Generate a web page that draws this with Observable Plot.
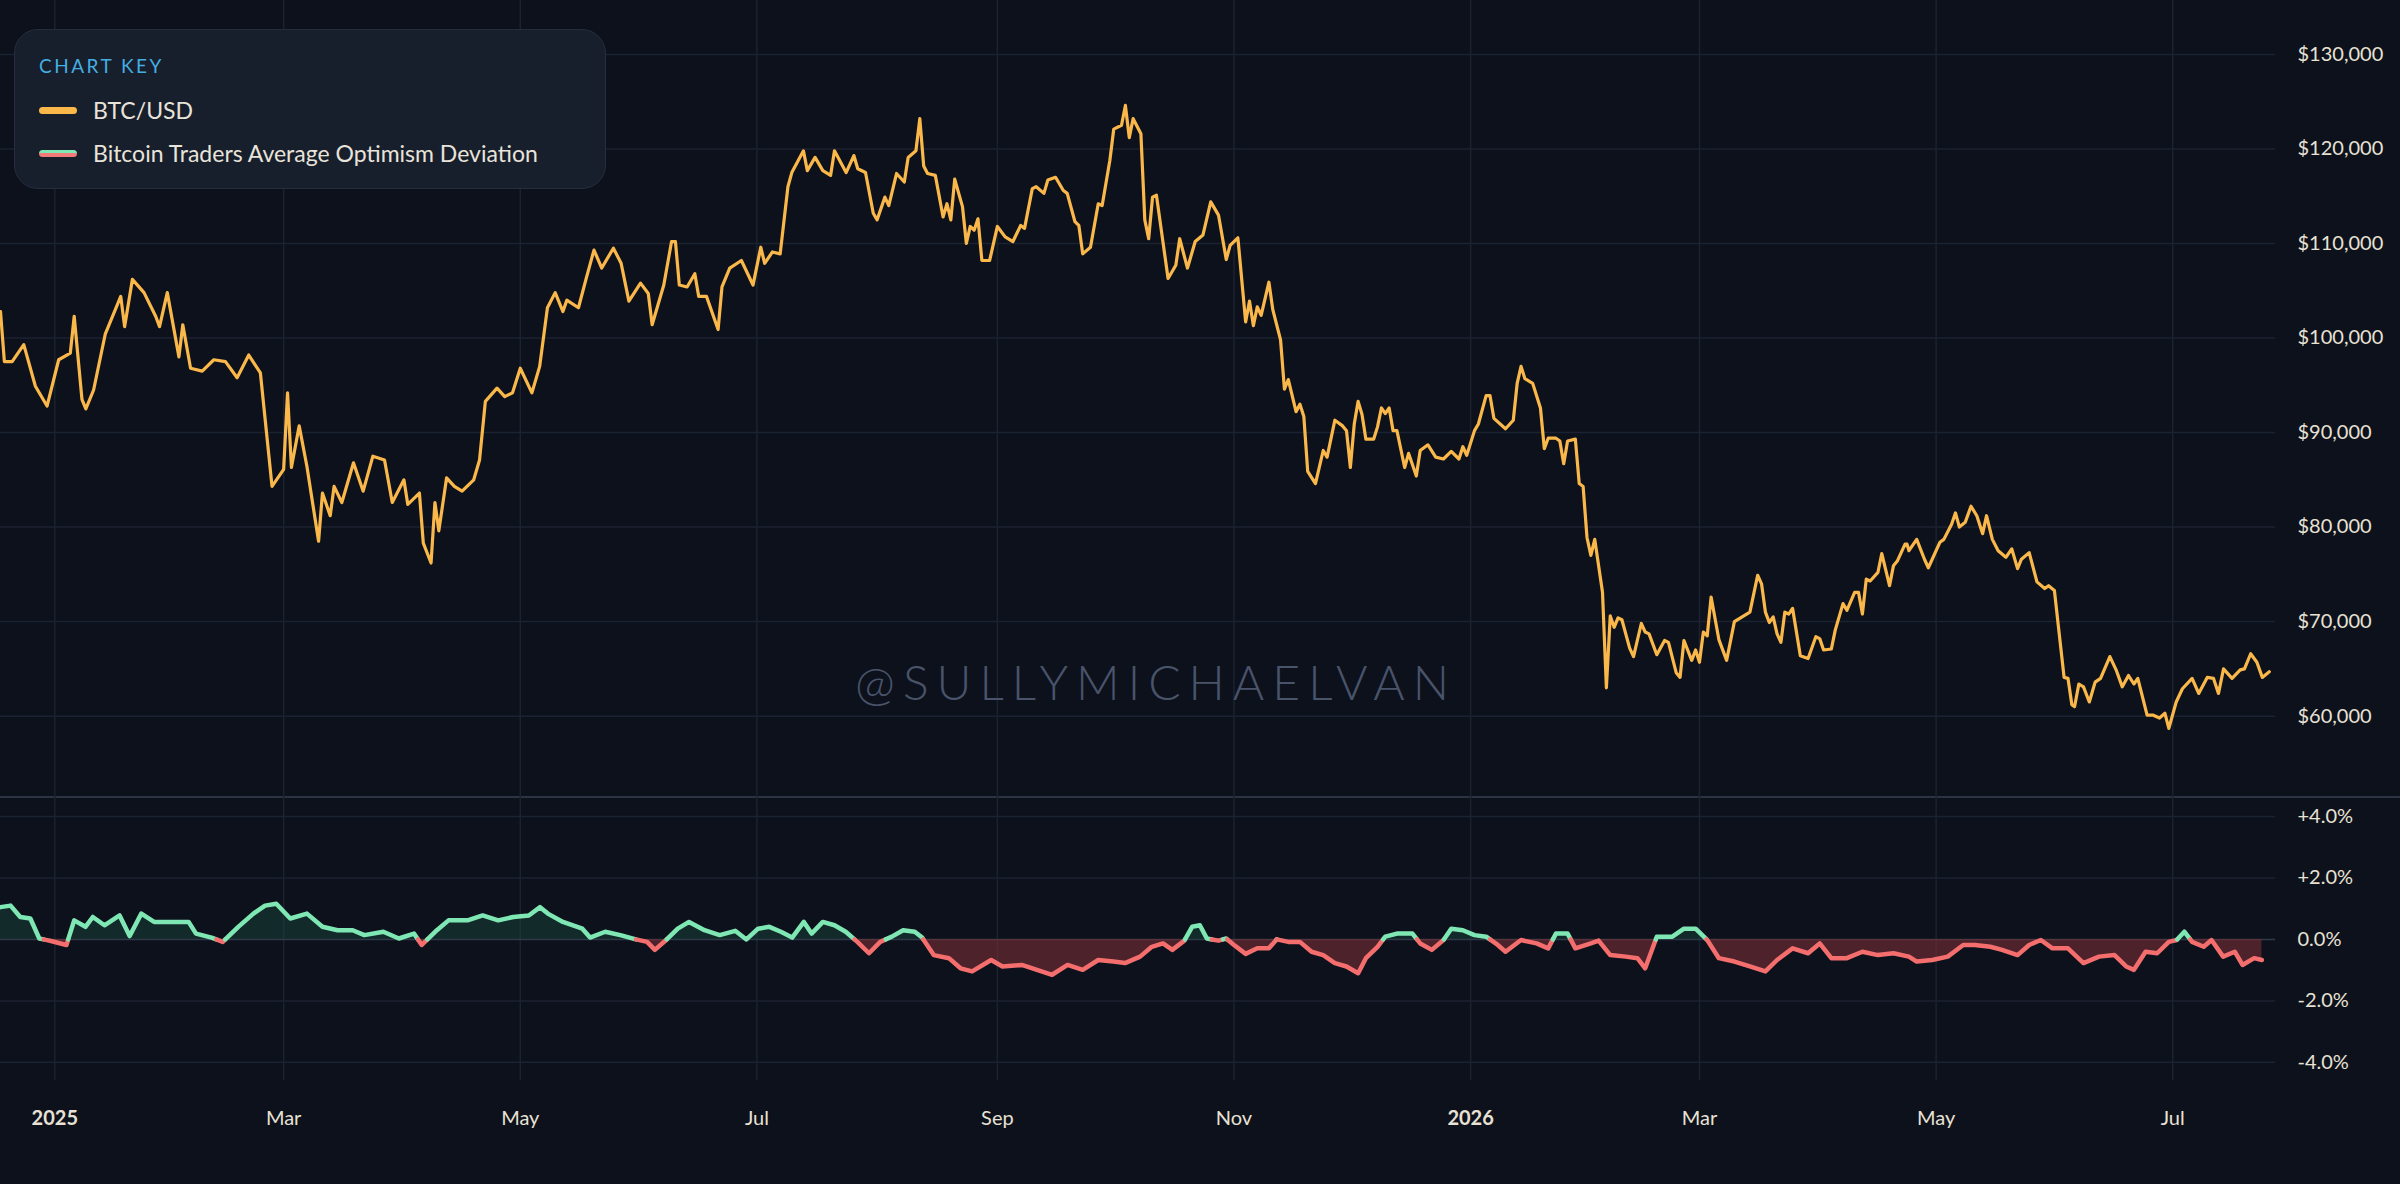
<!DOCTYPE html>
<html><head><meta charset="utf-8">
<script src="https://cdn.jsdelivr.net/npm/d3@7"></script>
<script src="https://cdn.jsdelivr.net/npm/@observablehq/plot@0.6"></script>
<style>
html,body{margin:0;padding:0;background:#0c111c;}
#wrap{position:relative;width:2400px;height:1184px;background:#0c111c;font-family:Lato,"Open Sans",sans-serif;overflow:hidden}
#wrap svg{display:block}
#legend{position:absolute;left:14px;top:29px;width:592px;height:160px;box-sizing:border-box;background:#171e2c;border:1.5px solid #262e3e;border-radius:24px;}
#legend .ttl{position:absolute;left:24px;top:24px;color:#45aee0;font-size:19px;letter-spacing:2.5px}
#legend .it{position:absolute;left:24px;color:#e9e4da;font-size:23px;display:flex;align-items:center}
#legend .sw{width:38px;height:7px;border-radius:4px;margin-right:16px}
#wm{position:absolute;left:1156px;top:681px;transform:translate(-50%,-50%);color:#49536a;font-size:48px;letter-spacing:8px;font-family:Lato,sans-serif;font-weight:300;white-space:nowrap}
</style></head>
<body><div id="wrap"><div id="topPanel"></div><div id="botPanel"></div>
<div id="wm">@SULLYMICHAELVAN</div>
<div id="legend"><div class="ttl">CHART KEY</div>
<div class="it" style="top:66px"><div class="sw" style="background:#fbb84a"></div>BTC/USD</div>
<div class="it" style="top:109px"><div class="sw" style="background:linear-gradient(#7fe7b4 50%,#f27a7a 50%)"></div>Bitcoin Traders Average Optimism Deviation</div>
</div></div>
<script>
// days since 2025-01-01
const btcDay = [-14,-13,-11,-8,-5,-2,1,4,5,7,8,10,13,17,18,20,23,26,27,29,32,33,35,38,41,44,47,50,53,56,59,60,61,63,65,68,69,71,72,74,75,77,79.5,82,85,87,90,91,94,95,97,98,99,101,103,105,108,109.5,111,114,116,118,120,123,125,127,129,131,132,135,137,139,141,
144,146,148,151,153,154,157,159,160,161,163,165,166,168,171,172,174,177,180,182,183,185,187,189,190,193,194,196,198,200,201,204,206,207,209,211,212,214,215,217,219,220,222,223,224,225,227,229,230,231,232,234,235,236,237,238,239,241,243,245,247,249,250,252,253,255,256,258,260,261,263,264,265,267,269,270,272,273,275,276,277,278,280,281,282,283,284,287,289,290,292,294,
296,298,300,302,303,305,307,308,309,310,311,313,314,316,317,318,320,321,322,323,325,327,328,330,332,333,334,335,336,337,338,340,341,342,343,344,345,346,348,349,351,352,354,356,358,360,362,363,364,366,367,369,370,371,374,376,377,378,379,381,383,384,385,387,388,389,390,392,393,394,395,396,397,399,400,401,402,403,404,406,407,409,410,411,413,415,416,418,419,420,422,423,424,425,426,427,429,431,433,
437,439,440,441,442,443,444,445,446,447,448,450,452,454,455,456,458,459,461,462,464,465,466,467,468,470,471,473,474,475,477,477.5,478,480,482,483,484,486,487,489,490,491,492.5,494,495.5,497,498,499.5,501,503,504.5,506,507,509,511,513,514,515.5,516.5,518,519,520,520.7,521.8,523,524.5,526,527.4,529.8,531.4,533,534.6,536,537,539.4,541,542.6,544,545,546.9,548.5,551,552.7,554.9,556.5,557.8,559.1,561.3,563.4,564.5,566.1,567.7,569.1,570.9];
const btcPrice = [102.8,97.5,97.5,99.3,94.9,92.8,97.7,98.4,102.3,93.5,92.5,94.5,100.4,104.4,101.2,106.2,104.8,102.3,101.2,104.8,98,101.4,96.8,96.5,97.7,97.5,95.8,98.2,96.3,84.3,86.1,94.2,86.3,90.7,86.4,78.5,83.6,81.2,84.3,82.6,84,86.8,83.8,87.5,87.1,82.6,85,82.4,83.6,78.3,76.2,82.6,79.6,85.2,84.3,83.8,85,87.1,93.3,94.7,93.8,94.2,96.8,94.2,97,103.2,104.8,102.8,104,103.2,106.3,109.3,107.4,
109.5,107.9,103.9,105.8,104.7,101.4,105.6,110.2,110.2,105.6,105.4,106.8,104.4,104.4,100.9,105.4,107.4,108.2,105.6,109.6,107.9,109.1,108.9,116,117.5,119.8,117.7,119.1,117.7,117.2,119.8,117.5,119.3,117.9,117.5,113.2,112.5,114.9,114,117.4,116.5,119.1,119.8,123.2,118.2,117.4,117.2,112.8,114.2,112.5,116.8,113.9,110,111.8,111.4,112.6,108.2,108.2,111.8,110.7,110.2,111.9,111.6,115.8,116,115.3,116.7,117,115.6,115.3,112.3,111.9,108.9,109.6,114.2,114,118.8,122.1,122.5,124.6,121.2,123.2,121.6,112.5,110.5,114.9,115.1,106.3,107.7,110.5,107.4,110.2,
110.9,114.4,113,108.3,109.8,110.6,101.7,103.9,101.3,103.3,102.4,105.9,103,99.8,94.6,95.6,92.2,93,91.7,85.9,84.6,88.1,87.4,91.3,90.7,90.2,86.3,90.9,93.3,91.9,89.3,89.3,90.6,92.6,92,92.6,90.2,90.2,86.3,87.8,85.4,88.1,88.7,87.4,87.2,88,87.2,88.5,87.6,90.2,90.9,93.9,93.9,91.5,90.4,91.3,95.2,97,95.7,95.2,92.6,88.3,89.4,89.4,89.1,86.7,89.1,89.3,84.6,84.3,78.9,77,78.7,73.1,63,70.6,69.4,70.4,70.2,67.2,66.3,69.8,68.9,68.7,66.5,68,67.8,64.6,64.1,68,65.9,67,65.7,68.9,68.5,72.6,68.1,65.9,70,
71,74.9,74,71,69.9,70.5,68.7,67.8,71,70.8,71.4,66.4,66.1,68.4,68.2,67,67.1,69.1,71.9,71.2,73.1,73.1,70.8,74.5,74.3,75.2,77.2,73.8,75.9,76.4,78.2,78.2,77.5,78.7,76.6,75.7,76.6,78.4,78.7,80.3,81.5,80,80.5,82.2,81.2,79.3,81.2,78.7,77.5,76.8,77.7,75.6,76.6,77.3,74.2,73.5,73.8,73.3,69.6,64.1,64,61.2,61,63.4,63.1,61.5,63.6,64,66.3,64.9,63.1,64.3,63.4,64,60.1,60.1,59.8,60.3,58.7,61.5,62.9,64,62.4,64.1,64,62.4,65,64,64.9,65,66.6,65.7,64.1,64.7];

const devDay = [-14,-11.4,-8.9,-6.3,-4,-1,3,5,7.9,9.8,12.8,16.7,19.3,22.3,25.6,30.5,34.5,36.4,40.4,43.3,47.3,51.2,54.2,57.1,60.7,65,69,72.9,76.8,79.8,84.7,88.7,92.6,94.6,98.5,101.5,106.4,110.3,114.3,118.2,122.2,125.1,127.1,131,136,138,141.9,145.8,149.8,152.7,154.7,157.6,160.6,163.5,167.5,171.4,175.4,178.3,181.3,184.2,187.2,190.1,193.1,195.1,198,201,203.9,206.9,209.9,212.8,215.8,218.7,221.7,223.6,226.6,230.5,233.5,236.5,241.4,244.3,249.3,253.2,257.1,261.1,265,269,272.9,275.9,279.8,282.8,285.7,288.1,291.2,293.2,295.2,
297,300,302,304,307,310,313,315,318,321,324,327,330,333,336,338,341,343,346,350,352,355,358,360,363,366,369,372,374,378,382,385,387,390,392,396,398,401,405,408,410,413,417,420,423,426,429,433,437,441,444,448,452,455,458,462,466,470,474,478,480,484,488,492,495,499,502,506,509,512,515,519,523,527,531,534,536,539,542,545,547,549,551,554,556,559,562,564,567,569];
const devValue = [1.05,1.1,0.73,0.68,0.03,-0.05,-0.18,0.62,0.41,0.73,0.46,0.78,0.11,0.84,0.57,0.57,0.57,0.19,0.06,-0.08,0.41,0.84,1.1,1.16,0.68,0.84,0.41,0.3,0.3,0.14,0.25,0.03,0.19,-0.18,0.3,0.62,0.62,0.78,0.62,0.73,0.78,1.05,0.84,0.57,0.35,0.06,0.25,0.14,0,-0.08,-0.34,-0.02,0.35,0.57,0.3,0.14,0.28,0,0.35,0.41,0.25,0.06,0.57,0.19,0.57,0.46,0.25,-0.08,-0.45,-0.08,0.09,0.3,0.25,0.06,-0.51,-0.61,-0.94,-1.04,-0.67,-0.88,-0.83,-0.99,-1.15,-0.83,-0.99,-0.67,-0.72,-0.77,-0.56,-0.24,-0.13,-0.34,-0.04,0.41,0.46,
0.03,-0.04,0.03,-0.18,-0.47,-0.29,-0.29,0,-0.08,-0.08,-0.4,-0.51,-0.77,-0.88,-1.1,-0.61,-0.24,0.09,0.19,0.19,-0.13,-0.34,-0.02,0.35,0.3,0.14,0.09,-0.18,-0.4,-0.02,-0.13,-0.29,0.19,0.19,-0.29,-0.13,-0.04,-0.51,-0.56,-0.61,-0.94,0.09,0.09,0.35,0.35,-0.02,-0.61,-0.72,-0.88,-1.04,-0.67,-0.29,-0.45,-0.13,-0.61,-0.61,-0.4,-0.51,-0.45,-0.56,-0.72,-0.67,-0.56,-0.18,-0.18,-0.24,-0.34,-0.51,-0.18,-0.02,-0.29,-0.29,-0.77,-0.56,-0.51,-0.88,-0.99,-0.4,-0.45,-0.08,-0.02,0.25,-0.08,-0.24,-0.02,-0.56,-0.4,-0.83,-0.61,-0.67];

const monthTicks = ["2025-01-01","2025-03-01","2025-05-01","2025-07-01","2025-09-01","2025-11-01","2026-01-01","2026-03-01","2026-05-01","2026-07-01"];
const priceTicks = [60000,70000,80000,90000,100000,110000,120000,130000];
const devTicks = [-4,-2,0,2,4];

const base = Date.UTC(2025,0,1), DAY = 86400000;
const toDate = d => new Date(base + d*DAY);
const btc = btcDay.map((d,i)=>({date:toDate(d), v:btcPrice[i]*1000}));
const dev = devDay.map((d,i)=>({date:toDate(d), v:devValue[i]}));
const xt = monthTicks.map(s=>new Date(s+"T00:00:00Z"));
const xDomain = [toDate(-14), toDate(572.5)];
const GRID="#1b2230", TXT="#e8e1d4", GREEN="#7fe7b4", RED="#f46e6e", ORANGE="#fbb84a";

const segPts=[]; let seg=0, prev=null;
for(const p of dev){
  const s = p.v>=0?1:-1;
  if(prev){
    const ps = prev.v>=0?1:-1;
    if(s!==ps){
      const t = prev.v/(prev.v-p.v);
      const cd = new Date(+prev.date + t*(p.date-prev.date));
      segPts.push({date:cd,v:0,z:seg,pos:ps>0});
      seg++;
      segPts.push({date:cd,v:0,z:seg,pos:s>0});
    }
  }
  segPts.push({date:p.date,v:p.v,z:seg,pos:s>0});
  prev=p;
}

const fmtX = d => d.getUTCMonth()===0 ? String(d.getUTCFullYear()) : d3.utcFormat("%b")(d);
const common = {width:2400, marginLeft:0, marginRight:125, style:{background:"transparent",fontFamily:"Lato, sans-serif",fontSize:"20px",color:TXT}};

const topChart = Plot.plot({...common, height:796, marginTop:0, marginBottom:0,
  x:{type:"utc",domain:xDomain,axis:null},
  y:{domain:[51500,135700],axis:null},
  marks:[
    Plot.ruleX(xt,{stroke:GRID,strokeWidth:1.5}),
    Plot.ruleY(priceTicks,{stroke:GRID,strokeWidth:1.5}),
    Plot.axisY(priceTicks,{anchor:"right",label:null,tickSize:0,tickPadding:22,tickFormat:d=>"$"+d3.format(",")(d),fill:TXT,fontSize:20}),
    Plot.line(btc,{x:"date",y:"v",stroke:ORANGE,strokeWidth:3.2,curve:"linear"})
  ]});

const botChart = Plot.plot({...common, height:388, marginTop:0, marginBottom:104,
  x:{type:"utc",domain:xDomain,axis:null},
  y:{domain:[-4.59,4.65],axis:null},
  marks:[
    Plot.ruleX(xt,{stroke:GRID,strokeWidth:1.5}),
    Plot.ruleY(devTicks,{stroke:d=>d===0?"#30394a":GRID,strokeWidth:1.5}),
    Plot.areaY(segPts,{x:"date",y1:0,y2:d=>Math.max(d.v,0),fill:"#1d4a3c",fillOpacity:0.45}),
    Plot.areaY(segPts,{x:"date",y1:0,y2:d=>Math.min(d.v,0),fill:"#7a2f36",fillOpacity:0.6}),
    Plot.line(segPts,{x:"date",y:"v",z:"z",stroke:d=>d.pos?GREEN:RED,strokeWidth:4.5}),
    Plot.axisY(devTicks,{anchor:"right",label:null,tickSize:0,tickPadding:22,tickFormat:d=>(d>0?"+":"")+d.toFixed(1)+"%",fill:TXT,fontSize:20}),
    Plot.axisX(xt,{anchor:"bottom",label:null,tickSize:0,tickPadding:30,tickFormat:fmtX,fill:TXT,fontSize:20})
  ]});

document.getElementById("topPanel").appendChild(topChart);
const bp = document.getElementById("botPanel");
bp.style.borderTop = "2px solid #2c3444";
bp.appendChild(botChart);
botChart.style.marginTop = "-2px";
botChart.querySelectorAll("text").forEach(t=>{ if(/^20\d\d$/.test(t.textContent)) t.setAttribute("font-weight","bold"); });
</script></body></html>
